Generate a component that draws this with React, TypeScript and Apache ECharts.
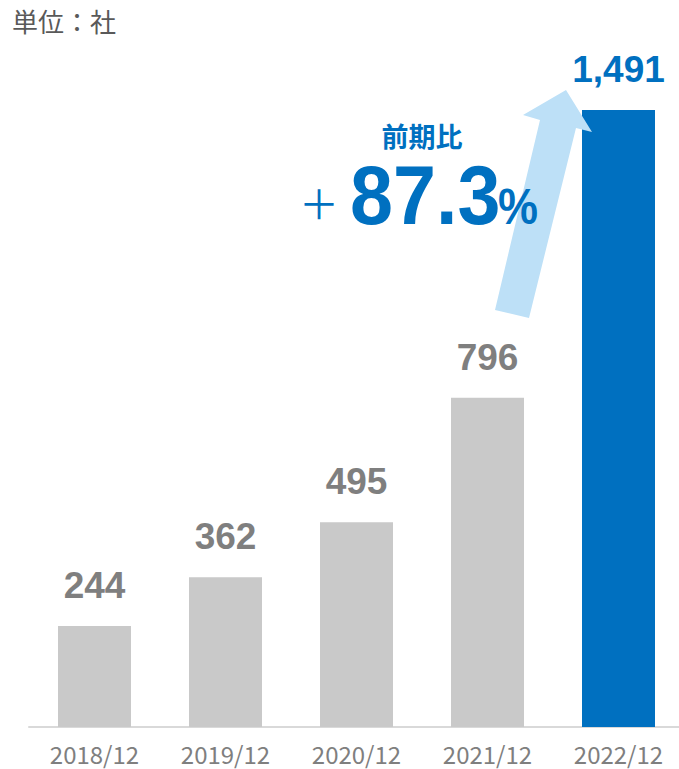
import React, { useEffect, useRef } from "react";
import * as echarts from "echarts";

const categories = ["2018/12", "2019/12", "2020/12", "2021/12", "2022/12"];
const companies = [244, 362, 495, 796, 1491];
const unitLabel = "単位：社";
const growthTitle = "前期比";
const growthValue = "87.3";

const GRAY = "#C9C9C9";
const BLUE = "#0070C0";
const LABEL_GRAY = "#7F7F7F";

export default function App() {
  const ref = useRef<HTMLDivElement>(null);
  useEffect(() => {
    const chart = echarts.init(ref.current!, null, { renderer: "svg" });
    const last = companies.length - 1;
    chart.setOption({
      animation: false,
      grid: { left: 29, width: 655, top: 65, bottom: 42 },
      xAxis: {
        type: "category",
        data: categories,
        axisTick: { show: false },
        axisLine: { lineStyle: { color: "#D9D9D9", width: 2 } },
        axisLabel: {
          color: LABEL_GRAY,
          fontSize: 24,
          fontFamily: "Noto Sans CJK JP",
          margin: 14,
        },
      },
      yAxis: {
        type: "value",
        min: 0,
        max: 1600,
        show: false,
        splitLine: { show: false },
      },
      series: [
        {
          type: "bar",
          barWidth: 73,
          data: companies.map((v, i) =>
            i === last
              ? { value: v, itemStyle: { color: BLUE }, label: { color: BLUE } }
              : { value: v, itemStyle: { color: GRAY } }
          ),
          label: {
            show: true,
            position: "top",
            distance: 22,
            color: LABEL_GRAY,
            fontSize: 37,
            fontWeight: "bold",
            fontFamily: "Liberation Sans, Arial, sans-serif",
            formatter: (p: any) => Number(p.value).toLocaleString("en-US"),
          },
        },
      ],
      graphic: [
        {
          type: "text",
          left: 12,
          top: 7,
          style: {
            text: unitLabel,
            fill: "#595959",
            fontSize: 26,
            fontFamily: "Noto Sans CJK JP",
          },
        },
        {
          type: "polygon",
          z: 10,
          shape: {
            points: [
              [495, 310],
              [529, 318],
              [576, 128],
              [592, 132],
              [566, 90],
              [523, 115],
              [540, 120],
            ],
          },
          style: { fill: "#BDE0F7" },
        },
        {
          type: "text",
          z: 20,
          x: 422,
          y: 135,
          style: {
            text: growthTitle,
            fill: BLUE,
            fontSize: 27,
            fontWeight: "bold",
            fontFamily: "Noto Sans CJK JP",
            textAlign: "center",
            textVerticalAlign: "middle",
          },
        },
        {
          type: "text",
          z: 20,
          x: 319,
          y: 202,
          style: {
            text: "＋",
            fill: BLUE,
            fontSize: 40,
            fontFamily: "Noto Sans CJK JP",
            textAlign: "center",
            textVerticalAlign: "middle",
          },
        },
        {
          type: "text",
          z: 20,
          x: 350,
          y: 195,
          scaleX: 0.92,
          style: {
            text: growthValue,
            fill: BLUE,
            fontSize: 84,
            fontWeight: "bold",
            fontFamily: "Liberation Sans, Arial, sans-serif",
            textAlign: "left",
            textVerticalAlign: "middle",
          },
        },
        {
          type: "text",
          z: 20,
          x: 498,
          y: 207,
          scaleX: 0.9,
          style: {
            text: "%",
            fill: BLUE,
            fontSize: 50,
            fontWeight: "bold",
            fontFamily: "Liberation Sans, Arial, sans-serif",
            textAlign: "left",
            textVerticalAlign: "middle",
          },
        },
      ],
    });
    return () => chart.dispose();
  }, []);
  return (
    <div
      style={{
        position: "absolute",
        left: 0,
        top: 0,
        width: 679,
        height: 769,
        overflow: "hidden",
      }}
    >
      <div ref={ref} style={{ width: 700, height: 769 }} />
    </div>
  );
}
